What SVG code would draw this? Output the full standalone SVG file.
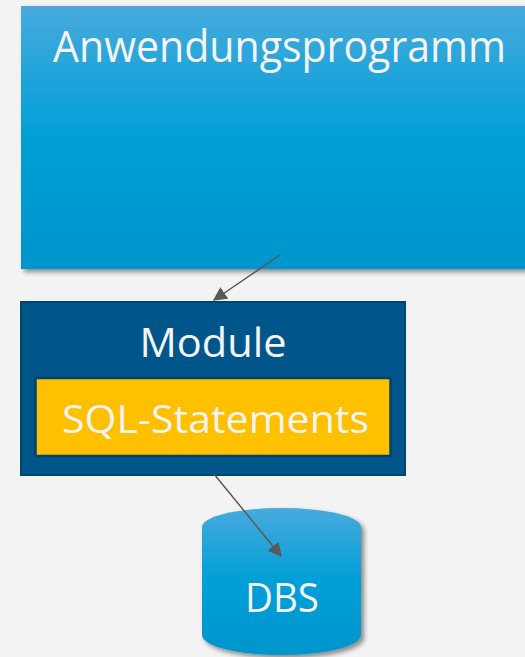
<svg xmlns="http://www.w3.org/2000/svg" width="525" height="657" viewBox="0 0 525 657">
<style>
text{font-family:"Open Sans","Liberation Sans",sans-serif;fill:#f4f4f4;text-anchor:middle}
.c{stroke:#595959;stroke-width:1.5;fill:none;marker-end:url(#ah)}
</style>
<defs>
<linearGradient id="gb" x1="0" y1="0" x2="0" y2="1">
<stop offset="0" stop-color="#47aadc"/>
<stop offset="0.5" stop-color="#009fd8"/>
<stop offset="1" stop-color="#0095cd"/>
</linearGradient>
<filter id="sh" x="-10%" y="-10%" width="130%" height="130%">
<feGaussianBlur in="SourceAlpha" stdDeviation="2.5"/>
<feOffset dx="3" dy="3"/>
<feComponentTransfer><feFuncA type="linear" slope="0.45"/></feComponentTransfer>
<feMerge><feMergeNode/><feMergeNode in="SourceGraphic"/></feMerge>
</filter>
<marker id="ah" markerWidth="14" markerHeight="14" viewBox="0 0 10 10" refX="9" refY="5" orient="auto" markerUnits="userSpaceOnUse">
<path d="M0,0 L10,5 L0,10 Z" fill="#595959"/>
</marker>
</defs>
<rect width="525" height="657" fill="#f3f3f3"/>
<g id="anwendungsprogramm">
<rect x="21" y="6" width="510" height="263" fill="url(#gb)" filter="url(#sh)"/>
<text x="279.5" y="62" font-size="43" textLength="453" lengthAdjust="spacingAndGlyphs">Anwendungsprogramm</text>
</g>
<g id="module">
<rect x="21" y="302" width="384" height="173" fill="#00558a" stroke="#00466f" stroke-width="2"/>
<text x="213" y="357" font-size="41" textLength="147" lengthAdjust="spacingAndGlyphs">Module</text>
</g>
<g id="sql">
<rect x="35.5" y="378" width="355" height="78" fill="#ffc000" stroke="#00436b" stroke-width="2.5"/>
<text x="215.5" y="433" font-size="39" textLength="307" lengthAdjust="spacingAndGlyphs">SQL-Statements</text>
</g>
<g id="dbs">
<path d="M202,527 A79.5,19 0 0 1 361,527 L361,635 A79.5,20 0 0 1 202,635 Z" fill="url(#gb)" filter="url(#sh)"/>
<text x="282" y="612" font-size="40" textLength="74" lengthAdjust="spacingAndGlyphs">DBS</text>
</g>
<g id="connectors">
<line class="c" x1="280" y1="255" x2="214" y2="300"/>
<line class="c" x1="214" y1="474" x2="281" y2="556"/>
</g>
</svg>
